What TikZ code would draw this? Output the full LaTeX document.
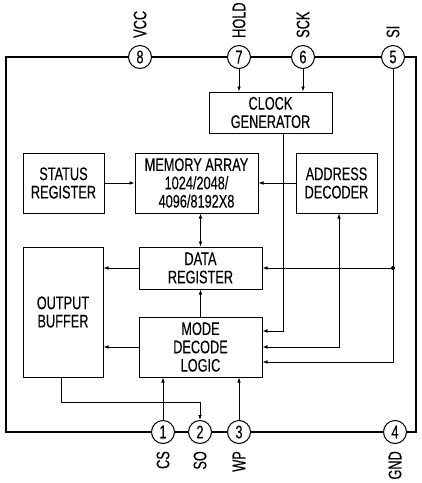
\documentclass[tikz,border=0pt]{standalone}
\usepackage{fontspec}
\setmainfont{Liberation Sans}[FakeStretch=0.70,FakeBold=0.2]
\usetikzlibrary{arrows.meta,calc}

\begin{document}
\begin{tikzpicture}[x=1pt,y=-1pt,>={Latex[length=5pt,width=3.6pt]},
  every node/.style={font=\fontsize{18.2}{18.3}\selectfont},
  blk/.style={draw,line width=1pt,align=center,inner sep=0pt},
  pin/.style={draw,circle,fill=white,line width=1pt,minimum size=23pt,inner sep=0pt},
  pinlbl/.style={rotate=90,inner sep=0pt},
  wire/.style={line width=0.8pt}]
\useasboundingbox (0,0) rectangle (422,483);
% package outline
\draw[line width=1.8pt] (6,57) rectangle (416,432);
% blocks
\node[blk,minimum width=123pt,minimum height=41pt] (clk) at (270.5,112.5) {CLOCK\\GENERATOR};
\node[blk,minimum width=81pt,minimum height=60pt] (status) at (63.5,183) {STATUS\\REGISTER};
\node[blk,minimum width=123pt,minimum height=60pt] (mem) at (196.5,183) {MEMORY ARRAY\\1024/2048/\\4096/8192X8};
\node[blk,minimum width=81pt,minimum height=60pt] (addr) at (336.5,183) {ADDRESS\\DECODER};
\node[blk,minimum width=123pt,minimum height=42pt] (data) at (200.5,268) {DATA\\REGISTER};
\node[blk,minimum width=80pt,minimum height=130pt] (outbuf) at (63,312) {OUTPUT\\BUFFER};
\node[blk,minimum width=123pt,minimum height=60pt] (mode) at (200.5,347) {MODE\\DECODE\\LOGIC};
% pins
\node[pin] (p8) at (140,57) {8};
\node[pin] (p7) at (239,57) {7};
\node[pin] (p6) at (303,57) {6};
\node[pin] (p5) at (393,57) {5};
\node[pin] (p1) at (163,432) {1};
\node[pin] (p2) at (200,432) {2};
\node[pin] (p3) at (239,432) {3};
\node[pin] (p4) at (395,432) {4};
\node[pinlbl,anchor=west] (vcc) at ([yshift=7pt]p8.north) {VCC};
\node[pinlbl,anchor=west] (hold) at ([yshift=7pt]p7.north) {HOLD};
\node[pinlbl,anchor=west] (sck) at ([yshift=7pt]p6.north) {SCK};
\node[pinlbl,anchor=west] (si) at ([yshift=7pt]p5.north) {SI};
\node[pinlbl,anchor=east] (cs) at ([yshift=-7pt]p1.south) {CS};
\node[pinlbl,anchor=east] (so) at ([yshift=-7pt]p2.south) {SO};
\node[pinlbl,anchor=east] (wp) at ([yshift=-7pt]p3.south) {WP};
\node[pinlbl,anchor=east] (gnd) at ([yshift=-7pt]p4.south) {GND};
% connections
\draw[wire,->] (p7) -- (p7 |- clk.north);
\draw[wire,->] (p6) -- (p6 |- clk.north);
\draw[wire,->] ([xshift=12.5pt]clk.south) |- ([yshift=16pt]mode.east);
\draw[wire,<->] (mode.east) -| ([xshift=2.5pt]addr.south);
\draw[wire,->] (p5) |- ([yshift=-15pt]mode.east);
\coordinate (sijoin) at (p5 |- data.east);
\fill (sijoin) circle (2pt);
\draw[wire,->] (sijoin) -- (data.east);
\draw[wire,->] (status) -- (mem);
\draw[wire,->] (addr) -- (mem);
\draw[wire,<->] (data.north |- mem.south) -- (data.north);
\draw[wire,->] (data.west) -- (data.west -| outbuf.east);
\draw[wire,->] (mode.west) -- (mode.west -| outbuf.east);
\draw[wire,->] (mode.north) -- (data.south);
\draw[wire,->] (p1) -- (p1 |- mode.south);
\draw[wire,->] (p3) -- (p3 |- mode.south);
\draw[wire,->] ([xshift=-2pt]outbuf.south) -- ++(0,25) -| (p2);
\end{tikzpicture}
\end{document}
